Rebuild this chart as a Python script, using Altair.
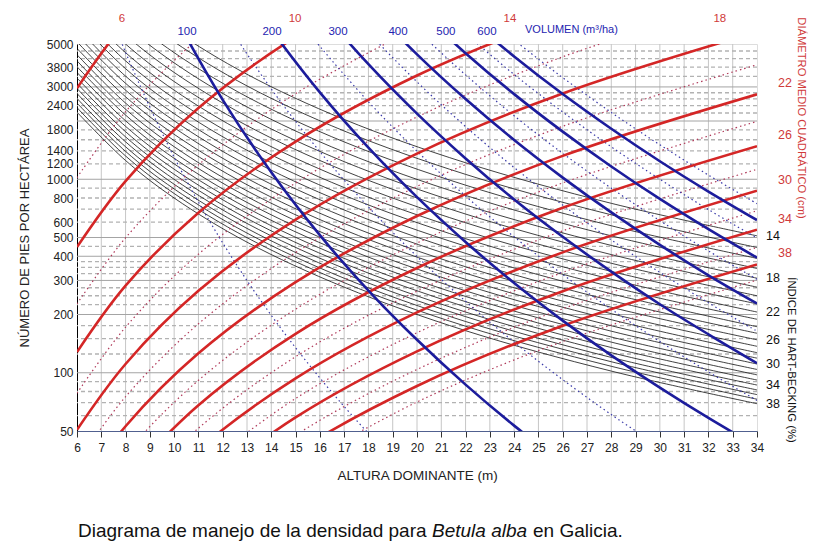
import altair as alt
import pandas as pd

FONT = "Liberation Sans"

# ---------------- axes / grid values ----------------
X_TICKS = list(range(6, 35))
Y_LABELS = [5000, 3800, 3000, 2400, 1800, 1400, 1200, 1000, 800, 600, 500, 400, 300, 200, 100, 50]
GRID_SOLID = [100, 200, 300, 400, 500, 1000, 2000, 3000]
GRID_DASHED = [60, 70, 80, 90, 125, 150, 175, 225, 250, 275, 325, 350, 375, 450,
               600, 700, 800, 900, 1200, 1400, 1600, 1800, 2200, 2400, 2600, 2800,
               3400, 3800, 4200, 4600]

# ---------------- Hart-Becking index lines (black) ----------------
H_BLACK = [6, 8, 10, 13, 17, 22, 28, 34]
IH_LINES = list(range(14, 39))
N_BLACK = [
    [16364, 9205, 5891, 3486, 2038, 1217, 751, 510],
    [14254, 8018, 5131, 3036, 1776, 1060, 655, 444],
    [12527, 7046, 4510, 2668, 1560, 932, 575, 390],
    [11098, 6242, 3995, 2364, 1382, 825, 510, 346],
    [9900, 5569, 3564, 2109, 1233, 736, 455, 308],
    [8885, 4998, 3199, 1893, 1107, 661, 408, 277],
    [8018, 4510, 2887, 1708, 999, 596, 368, 250],
    [7273, 4091, 2618, 1549, 906, 541, 334, 227],
    [6628, 3728, 2386, 1412, 826, 493, 304, 206],
    [6063, 3410, 2183, 1291, 755, 451, 278, 189],
    [5568, 3132, 2005, 1186, 694, 414, 256, 173],
    [5131, 2886, 1847, 1093, 639, 382, 236, 160],
    [4743, 2668, 1707, 1010, 591, 353, 218, 148],
    [4399, 2475, 1584, 937, 548, 327, 202, 137],
    [4091, 2301, 1473, 871, 510, 304, 188, 127],
    [3815, 2146, 1373, 813, 475, 284, 175, 119],
    [3564, 2005, 1283, 759, 444, 265, 164, 111],
    [3336, 1877, 1201, 711, 416, 248, 153, 104],
    [3131, 1761, 1127, 667, 390, 233, 144, 97.5],
    [2945, 1656, 1060, 627, 367, 219, 135, 91.7],
    [2774, 1561, 999, 591, 346, 206, 127, 86.4],
    [2617, 1472, 942, 557, 326, 195, 120, 81.5],
    [2476, 1393, 891, 527, 308, 184, 114, 77.1],
    [2344, 1319, 844, 499, 292, 174, 108, 73.0],
    [2222, 1250, 800, 473, 277, 165, 102, 69.2],
]

# ---------------- quadratic mean diameter lines (red) ----------------
H_RED = [6, 8, 11, 15, 20, 26, 34]
N_RED = {
    6:  [2954, 6479, 15452, None, None, None, None],
    8:  [1019, 2235, 5330, 12432, None, None, None],
    10: [446, 978, 2333, 5441, 11935, None, None],
    12: [227, 498, 1187, 2769, 6075, None, None],
    14: [128, 282, 672, 1566, 3436, 7031, None],
    16: [78.4, 172, 410, 956, 2098, 4293, 8930],
    18: [50.7, 111, 265, 619, 1357, 2776, 5775],
    20: [34.3, 75.2, 179, 418, 918, 1878, 3907],
    22: [24.1, 52.9, 126, 294, 646, 1321, 2748],
    24: [17.5, 38.3, 91.4, 213, 468, 957, 1991],
    26: [None, 28.5, 68.0, 159, 348, 712, 1481],
    28: [None, 21.7, 51.7, 121, 264, 541, 1125],
    30: [None, 16.8, 40.1, 93.5, 205, 419, 872],
    32: [None, None, 31.5, 73.6, 161, 330, 687],
    34: [None, None, 25.2, 58.8, 129, 264, 549],
    36: [None, None, 20.4, 47.6, 104, 214, 444],
    38: [None, None, 16.7, 38.9, 85.4, 175, 363],
    40: [None, None, None, 32.2, 70.6, 145, 301],
}
DG_SOLID = [6, 10, 14, 18, 22, 26, 30, 34, 38]

# ---------------- volume lines (blue) ----------------
BLUE_H = {
    50:  [7, 8, 10, 12, 14, 16, 18, 20],
    100: [9, 10, 12, 14, 16, 18, 20, 22, 24, 26],
    150: [11, 12, 14, 16, 18, 20, 22, 24, 26, 28, 30],
    200: [13, 14, 16, 18, 20, 22, 24, 26, 28, 30, 32, 34],
    250: [14, 15, 16, 18, 20, 22, 24, 26, 28, 30, 32, 34],
    300: [15, 16, 18, 20, 22, 24, 26, 28, 30, 32, 34],
    350: [16, 17, 18, 20, 22, 24, 26, 28, 30, 32, 34],
    400: [17, 18, 20, 22, 24, 26, 28, 30, 32, 34],
    450: [18, 19, 20, 22, 24, 26, 28, 30, 32, 34],
    500: [19, 20, 22, 24, 26, 28, 30, 32, 34],
    550: [20, 21, 22, 24, 26, 28, 30, 32, 34],
    600: [21, 22, 24, 26, 28, 30, 32, 34],
    650: [22, 23, 24, 26, 28, 30, 32, 34],
}
BLUE_N = {
    50:  [9540, 4527, 1300, 469, 198, 94.0, 48.6, 27.0],
    100: [12850, 7120, 2572, 1086, 514, 266, 148, 86.8, 53.3, 34.1],
    150: [11290, 6930, 2928, 1389, 719, 399, 234, 144, 92.1, 60.8, 41.4],
    200: [8980, 5929, 2811, 1456, 808, 474, 291, 186, 123, 83.8, 58.4, 41.6],
    250: [10250, 6966, 4865, 2515, 1396, 819, 504, 322, 213, 145, 101, 71.9],
    300: [10900, 7593, 3930, 2183, 1281, 786, 504, 333, 226, 158, 112],
    350: [11090, 7900, 5737, 3186, 1871, 1149, 735, 486, 330, 230, 164],
    400: [10970, 7963, 4420, 2596, 1595, 1020, 674, 458, 319, 228],
    450: [10630, 7856, 5896, 3463, 2127, 1361, 899, 611, 426, 304],
    500: [10180, 7635, 4482, 2754, 1762, 1164, 791, 552, 393],
    550: [9650, 7340, 5661, 3480, 2225, 1471, 1000, 697, 497],
    600: [9100, 7013, 4310, 2756, 1823, 1239, 864, 615],
    650: [8530, 6650, 5240, 3352, 2215, 1507, 1051, 748],
}
V_SOLID = [100, 200, 300, 400, 500, 600]

# ---------------- labels ----------------
TOP_DG_TEXT = ["6", "10", "14", "18"]
TOP_DG_AT = [7.85, 14.98, 23.83, 32.47]
TOP_V_TEXT = ["100", "200", "300", "400", "500", "600"]
TOP_V_AT = [10.53, 14.03, 16.75, 19.22, 21.19, 22.88]
RIGHT_DG = [22, 26, 30, 34, 38]
RIGHT_IH = [14, 18, 22, 26, 30, 34, 38]
CAPTION = ["Diagrama de manejo de la densidad para", "Betula alba", "en Galicia."]

# ---------------- build tables ----------------
black_rows = [
    {"H": h, "N": n, "id": f"ih{ih}"}
    for ih, ns in zip(IH_LINES, N_BLACK) for h, n in zip(H_BLACK, ns)
]
red_rows = [
    {"H": h, "N": n, "id": f"dg{dg}", "solid": dg in DG_SOLID}
    for dg, ns in N_RED.items() for h, n in zip(H_RED, ns) if n is not None
]
blue_rows = [
    {"H": h, "N": n, "id": f"v{v}", "solid": v in V_SOLID}
    for v in BLUE_H for h, n in zip(BLUE_H[v], BLUE_N[v])
]
black_df = pd.DataFrame(black_rows)
red_df = pd.DataFrame(red_rows)
blue_df = pd.DataFrame(blue_rows)

xs = alt.Scale(domain=[6, 34], nice=False, zero=False)
ys = alt.Scale(type="log", domain=[50, 5000], nice=False)

xaxis = alt.Axis(values=X_TICKS, title="ALTURA DOMINANTE (m)", grid=False,
                 labelFont=FONT, labelFontSize=12, labelColor="#222",
                 titleFont=FONT, titleFontSize=13.5, titleFontWeight="normal",
                 titleColor="#222", tickColor="#333", tickSize=6, labelPadding=5,
                 titlePadding=15, domainColor="#50608f", labelFlush=False,
                 labelOverlap=False)
yaxis = alt.Axis(values=Y_LABELS, format="d", title="NÚMERO DE PIES POR HECTÁREA",
                 grid=False, ticks=False, labelPadding=4, labelFont=FONT,
                 labelFontSize=12, labelColor="#222", titleFont=FONT,
                 titleFontSize=13, titleFontWeight="normal", titleColor="#222",
                 titlePadding=15, domainColor="#000", labelOverlap=False)

X = alt.X("H:Q", scale=xs, axis=xaxis)
Y = alt.Y("N:Q", scale=ys, axis=yaxis)

vgrid = alt.Chart(pd.DataFrame({"H": X_TICKS[1:-1]})).mark_rule(
    color="#c6c6c6", strokeWidth=1).encode(x=X)
hsolid = alt.Chart(pd.DataFrame({"N": GRID_SOLID})).mark_rule(
    color="#a4a4a4", strokeWidth=1).encode(y=Y)
hdash = alt.Chart(pd.DataFrame({"N": GRID_DASHED})).mark_rule(
    color="#b2b2b2", strokeWidth=1.3, strokeDash=[4, 3]).encode(y=Y)

black = alt.Chart(black_df).mark_line(
    clip=True, interpolate="catmull-rom", color="#111", strokeWidth=0.8
).encode(x=X, y=Y, detail="id:N")

red_dot = alt.Chart(red_df).transform_filter("!datum.solid").mark_line(
    clip=True, interpolate="catmull-rom", color="#b03a5a", strokeWidth=1.2,
    strokeDash=[1.5, 3]).encode(x=X, y=Y, detail="id:N")
blue_dot = alt.Chart(blue_df).transform_filter("!datum.solid").mark_line(
    clip=True, interpolate="catmull-rom", color="#3a3aa8", strokeWidth=1.2,
    strokeDash=[1.5, 3]).encode(x=X, y=Y, detail="id:N")
red_sol = alt.Chart(red_df).transform_filter("datum.solid").mark_line(
    clip=True, interpolate="catmull-rom", color="#d42626", strokeWidth=2.6
).encode(x=X, y=Y, detail="id:N")
blue_sol = alt.Chart(blue_df).transform_filter("datum.solid").mark_line(
    clip=True, interpolate="catmull-rom", color="#1c1c9c", strokeWidth=2.6
).encode(x=X, y=Y, detail="id:N")

# labels
top_dg = alt.Chart(pd.DataFrame({"H": TOP_DG_AT, "t": TOP_DG_TEXT})).mark_text(
    font=FONT, fontSize=11.5, color="#d03a3a", baseline="middle").encode(
    x=X, y=alt.value(-25), text="t:N")
top_v = alt.Chart(pd.DataFrame({"H": TOP_V_AT, "t": TOP_V_TEXT})).mark_text(
    font=FONT, fontSize=11.5, color="#2424b0", baseline="middle").encode(
    x=X, y=alt.value(-12), text="t:N")
vol_title = alt.Chart(pd.DataFrame({"t": ["VOLUMEN (m³/ha)"]})).mark_text(
    font=FONT, fontSize=11, color="#2424b0", align="left", baseline="middle").encode(
    x=alt.value(448), y=alt.value(-14), text="t:N")

right_dg_df = pd.DataFrame({"N": [N_RED[d][-1] for d in RIGHT_DG],
                            "t": [str(d) for d in RIGHT_DG]})
right_dg = alt.Chart(right_dg_df).mark_text(
    font=FONT, fontSize=12.5, color="#d03a3a", baseline="middle", dy=-11).encode(
    x=alt.value(708), y=Y, text="t:N")
right_ih_df = pd.DataFrame({"N": [N_BLACK[IH_LINES.index(i)][-1] for i in RIGHT_IH],
                            "t": [str(i) for i in RIGHT_IH]})
right_ih = alt.Chart(right_ih_df).mark_text(
    font=FONT, fontSize=12.5, color="#111", baseline="middle").encode(
    x=alt.value(696), y=Y, text="t:N")

dg_title = alt.Chart(pd.DataFrame({"t": ["DIÁMETRO MEDIO CUADRÁTICO (cm)"]})).mark_text(
    font=FONT, fontSize=11.2, color="#d03a3a", angle=90, baseline="middle").encode(
    x=alt.value(724), y=alt.value(74), text="t:N")
ih_title = alt.Chart(pd.DataFrame({"t": ["ÍNDICE DE HART-BECKING (%)"]})).mark_text(
    font=FONT, fontSize=11.3, color="#111", angle=90, baseline="middle").encode(
    x=alt.value(714), y=alt.value(316), text="t:N")

cap1 = alt.Chart(pd.DataFrame({"t": [CAPTION[0]]})).mark_text(
    font=FONT, fontSize=19, color="#111", align="left", baseline="middle").encode(
    x=alt.value(1), y=alt.value(487), text="t:N")
cap2 = alt.Chart(pd.DataFrame({"t": [CAPTION[1]]})).mark_text(
    font=FONT, fontSize=19, fontStyle="italic", color="#111", align="left",
    baseline="middle").encode(x=alt.value(355), y=alt.value(487), text="t:N")
cap3 = alt.Chart(pd.DataFrame({"t": [CAPTION[2]]})).mark_text(
    font=FONT, fontSize=19, color="#111", align="left", baseline="middle").encode(
    x=alt.value(456), y=alt.value(487), text="t:N")

chart = alt.layer(
    vgrid, hdash, hsolid, black, red_dot, blue_dot, red_sol, blue_sol,
    top_dg, top_v, vol_title, right_dg, right_ih, dg_title, ih_title,
    cap1, cap2, cap3,
).properties(
    width=680, height=387,
    padding={"left": 77, "top": 44, "right": 63, "bottom": 118},
    autosize=alt.AutoSizeParams(type="none"),
).configure_view(stroke="#000", strokeWidth=1).configure(background="white")

chart.save("out.html", embed_options={"renderer": "svg", "actions": False})
